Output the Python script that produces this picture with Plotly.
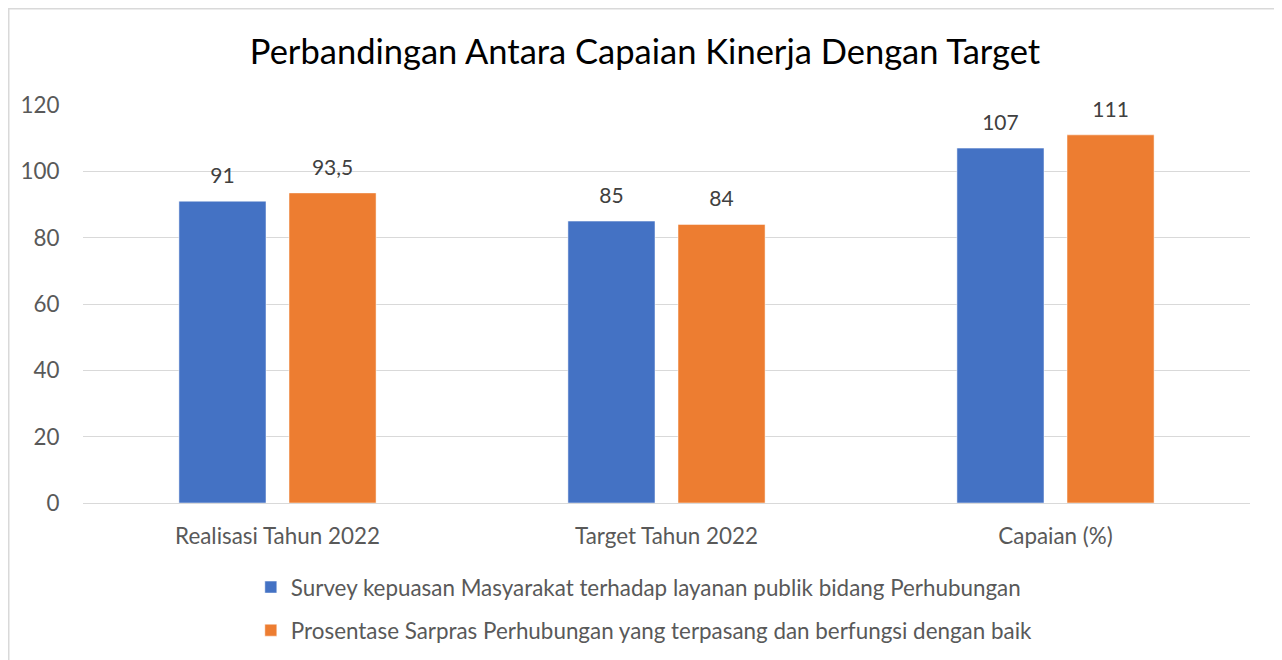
import plotly.graph_objects as go

categories = ["Realisasi Tahun 2022", "Target Tahun 2022", "Capaian (%)"]
series_names = [
    "Survey kepuasan Masyarakat terhadap layanan publik bidang Perhubungan",
    "Prosentase Sarpras Perhubungan yang terpasang dan berfungsi dengan baik",
]
survey_values = [91, 85, 107]
sarpras_values = [93.5, 84, 111]
colors = ["#4472C4", "#ED7D31"]
y_ticks = [0, 20, 40, 60, 80, 100, 120]
title_text = "Perbandingan Antara Capaian Kinerja Dengan Target"

FONT = "Lato"
# the page body adds an 8px offset; the figure is sized to fill the rest of the window
W, H = 1274, 652
L, R, T, B = 75, 32, 97, 157
PW, PH = W - L - R, H - T - B
BARGAP = 0.434


def fmt(v):
    return ("%g" % v).replace(".", ",")


fig = go.Figure()
all_series = [survey_values, sarpras_values]
for i, vals in enumerate(all_series):
    fig.add_trace(go.Bar(
        x=categories,
        y=vals,
        name=series_names[i],
        marker=dict(color=colors[i], line=dict(color="white", width=0.5)),
        offsetgroup=str(i),
        legendgroup="g%d" % i,
        hoverinfo="x+y",
    ))
for i, vals in enumerate(all_series):
    fig.add_trace(go.Scatter(
        x=categories,
        y=vals,
        mode="markers+text",
        text=[fmt(v) for v in vals],
        textposition="top center",
        textfont=dict(family=FONT, size=21, color="#404040"),
        marker=dict(size=19, opacity=0, color=colors[i]),
        offsetgroup=str(i),
        showlegend=False,
        cliponaxis=False,
        hoverinfo="skip",
    ))

fig.update_layout(
    width=W,
    height=H,
    paper_bgcolor="white",
    plot_bgcolor="white",
    margin=dict(l=L, r=R, t=T, b=B, pad=0),
    barmode="group",
    scattermode="group",
    bargap=BARGAP,
    scattergap=BARGAP,
    bargroupgap=0.209,
    title=dict(text=title_text, x=0.5, xanchor="center", y=0.9325, yanchor="middle",
               font=dict(family=FONT, size=34.5, color="#000000")),
    font=dict(family=FONT, color="#595959"),
    showlegend=True,
    legend=dict(orientation="v", x=0.481, xanchor="center",
                yref="container", y=1 - 558 / H, yanchor="top",
                font=dict(family=FONT, size=22.4, color="#595959"),
                tracegroupgap=11, bgcolor="rgba(0,0,0,0)"),
    xaxis=dict(showgrid=False, showline=False, zeroline=False,
               ticks="outside", ticklen=13, tickcolor="rgba(0,0,0,0)",
               tickfont=dict(family=FONT, size=22.4, color="#595959")),
    yaxis=dict(range=[0, 120], tickvals=y_ticks, showgrid=True, gridcolor="#D9D9D9",
               gridwidth=1.3, zeroline=True, zerolinecolor="#D9D9D9", zerolinewidth=1.3,
               showline=False, ticks="outside", ticklen=18, tickcolor="rgba(0,0,0,0)",
               tickfont=dict(family=FONT, size=22.4, color="#595959")),
    shapes=[dict(type="rect", xref="paper", yref="paper",
                 x0=(0.5 - L) / PW, x1=(1270 - L) / PW,
                 y0=(PH + T - H - 20) / PH, y1=(PH + T - 0.5) / PH,
                 line=dict(color="#D9D9D9", width=2), fillcolor="rgba(0,0,0,0)", layer="below")],
)

fig.write_html("out.html")
